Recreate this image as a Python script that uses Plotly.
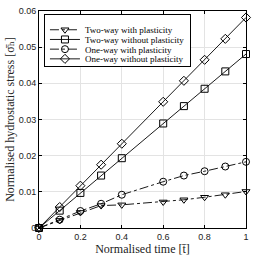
import plotly.graph_objects as go

t_full = [0, 0.1, 0.2, 0.3, 0.4, 0.6, 0.7, 0.8, 0.9, 1.0]
two_way_plastic = [0, 0.0021, 0.0043, 0.0062, 0.0064, 0.0072, 0.0078, 0.0085, 0.0092, 0.0101]
two_way_elastic = [0, 0.0048, 0.0097, 0.0145, 0.0193, 0.0289, 0.0337, 0.0385, 0.0433, 0.0481]
one_way_plastic = [0, 0.0023, 0.0047, 0.0067, 0.0092, 0.0128, 0.0145, 0.0157, 0.0170, 0.0183]
one_way_elastic = [0, 0.0058, 0.0117, 0.0175, 0.0233, 0.0349, 0.0407, 0.0465, 0.0523, 0.0582]

x_ticks = [0, 0.2, 0.4, 0.6, 0.8, 1]
x_tick_labels = ["0", "0.2", "0.4", "0.6", "0.8", "1"]
y_ticks = [0, 0.01, 0.02, 0.03, 0.04, 0.05, 0.06]
y_tick_labels = ["0", "0.01", "0.02", "0.03", "0.04", "0.05", "0.06"]

series = [
    ("Two-way with plasticity", two_way_plastic, "triangle-down-open", "dashdot"),
    ("Two-way without plasticity", two_way_elastic, "square-open", "solid"),
    ("One-way with plasticity", one_way_plastic, "circle-open", "dashdot"),
    ("One-way without plasticity", one_way_elastic, "diamond-open", "solid"),
]

fig = go.Figure()
for name, ys, sym, dash in series:
    fig.add_trace(go.Scatter(
        x=t_full, y=ys, name=name, mode="lines+markers",
        line=dict(color="black", width=0.9, dash=dash),
        marker=dict(symbol=sym, size=7, color="black", line=dict(width=1, color="black")),
        cliponaxis=False,
    ))

serif = "Liberation Serif, DejaVu Serif, serif"
sans = "Liberation Sans, Arial, sans-serif"

axis_common = dict(
    showline=True, linecolor="black", linewidth=1, mirror="allticks",
    ticks="inside", ticklen=3, tickcolor="black",
    showgrid=True, gridcolor="#e3e3e3", gridwidth=1, zeroline=False,
    tickfont=dict(family=sans, size=9, color="#222"),
)

fig.update_layout(
    width=255, height=258,
    margin=dict(l=39, r=6, t=6, b=30),
    paper_bgcolor="white", plot_bgcolor="white",
    showlegend=True,
    legend=dict(x=0.024, y=0.985, xanchor="left", yanchor="top",
                bgcolor="white", bordercolor="black", borderwidth=1,
                font=dict(family=serif, size=9, color="black"),
                tracegroupgap=0, itemwidth=30),
    xaxis=dict(range=[0, 1], tickvals=x_ticks, ticktext=x_tick_labels,
               title=dict(text="Normalised time [t\u0304]", standoff=1,
                          font=dict(family=serif, size=12, color="#222")),
               **axis_common),
    yaxis=dict(range=[0, 0.06], tickvals=y_ticks, ticktext=y_tick_labels,
               title=dict(text="Normalised hydrostatic stress [\u03c3\u0304\u2095]", standoff=1,
                          font=dict(family=serif, size=12, color="#222")),
               **axis_common),
)

# compact the legend rows (plotly enforces a minimum row height of 19px)
post = """
document.body.style.margin='0';document.body.style.overflow='hidden';
(function(){
  var STEP=9.7, PADB=7.5;
  var gd=document.getElementById('{plot_id}');
  var items=gd.querySelectorAll('g.legend g.traces');
  var first=null;
  items.forEach(function(el,i){
    var tr=el.getAttribute('transform')||'translate(0,0)';
    var m=/translate\\(\\s*([-\\d.eE]+)[\\s,]*([-\\d.eE]+)?\\s*\\)/.exec(tr);
    var x=m?parseFloat(m[1]):0, y=(m&&m[2])?parseFloat(m[2]):0;
    if(first===null) first=y;
    el.setAttribute('transform','translate('+x+','+(first+i*STEP)+')');
  });
  var bg=gd.querySelector('g.legend rect.bg');
  if(bg && first!==null){ bg.setAttribute('height', first+(items.length-1)*STEP+PADB); }
})();
"""

fig.write_html("out.html", config={"displayModeBar": False}, post_script=post)
